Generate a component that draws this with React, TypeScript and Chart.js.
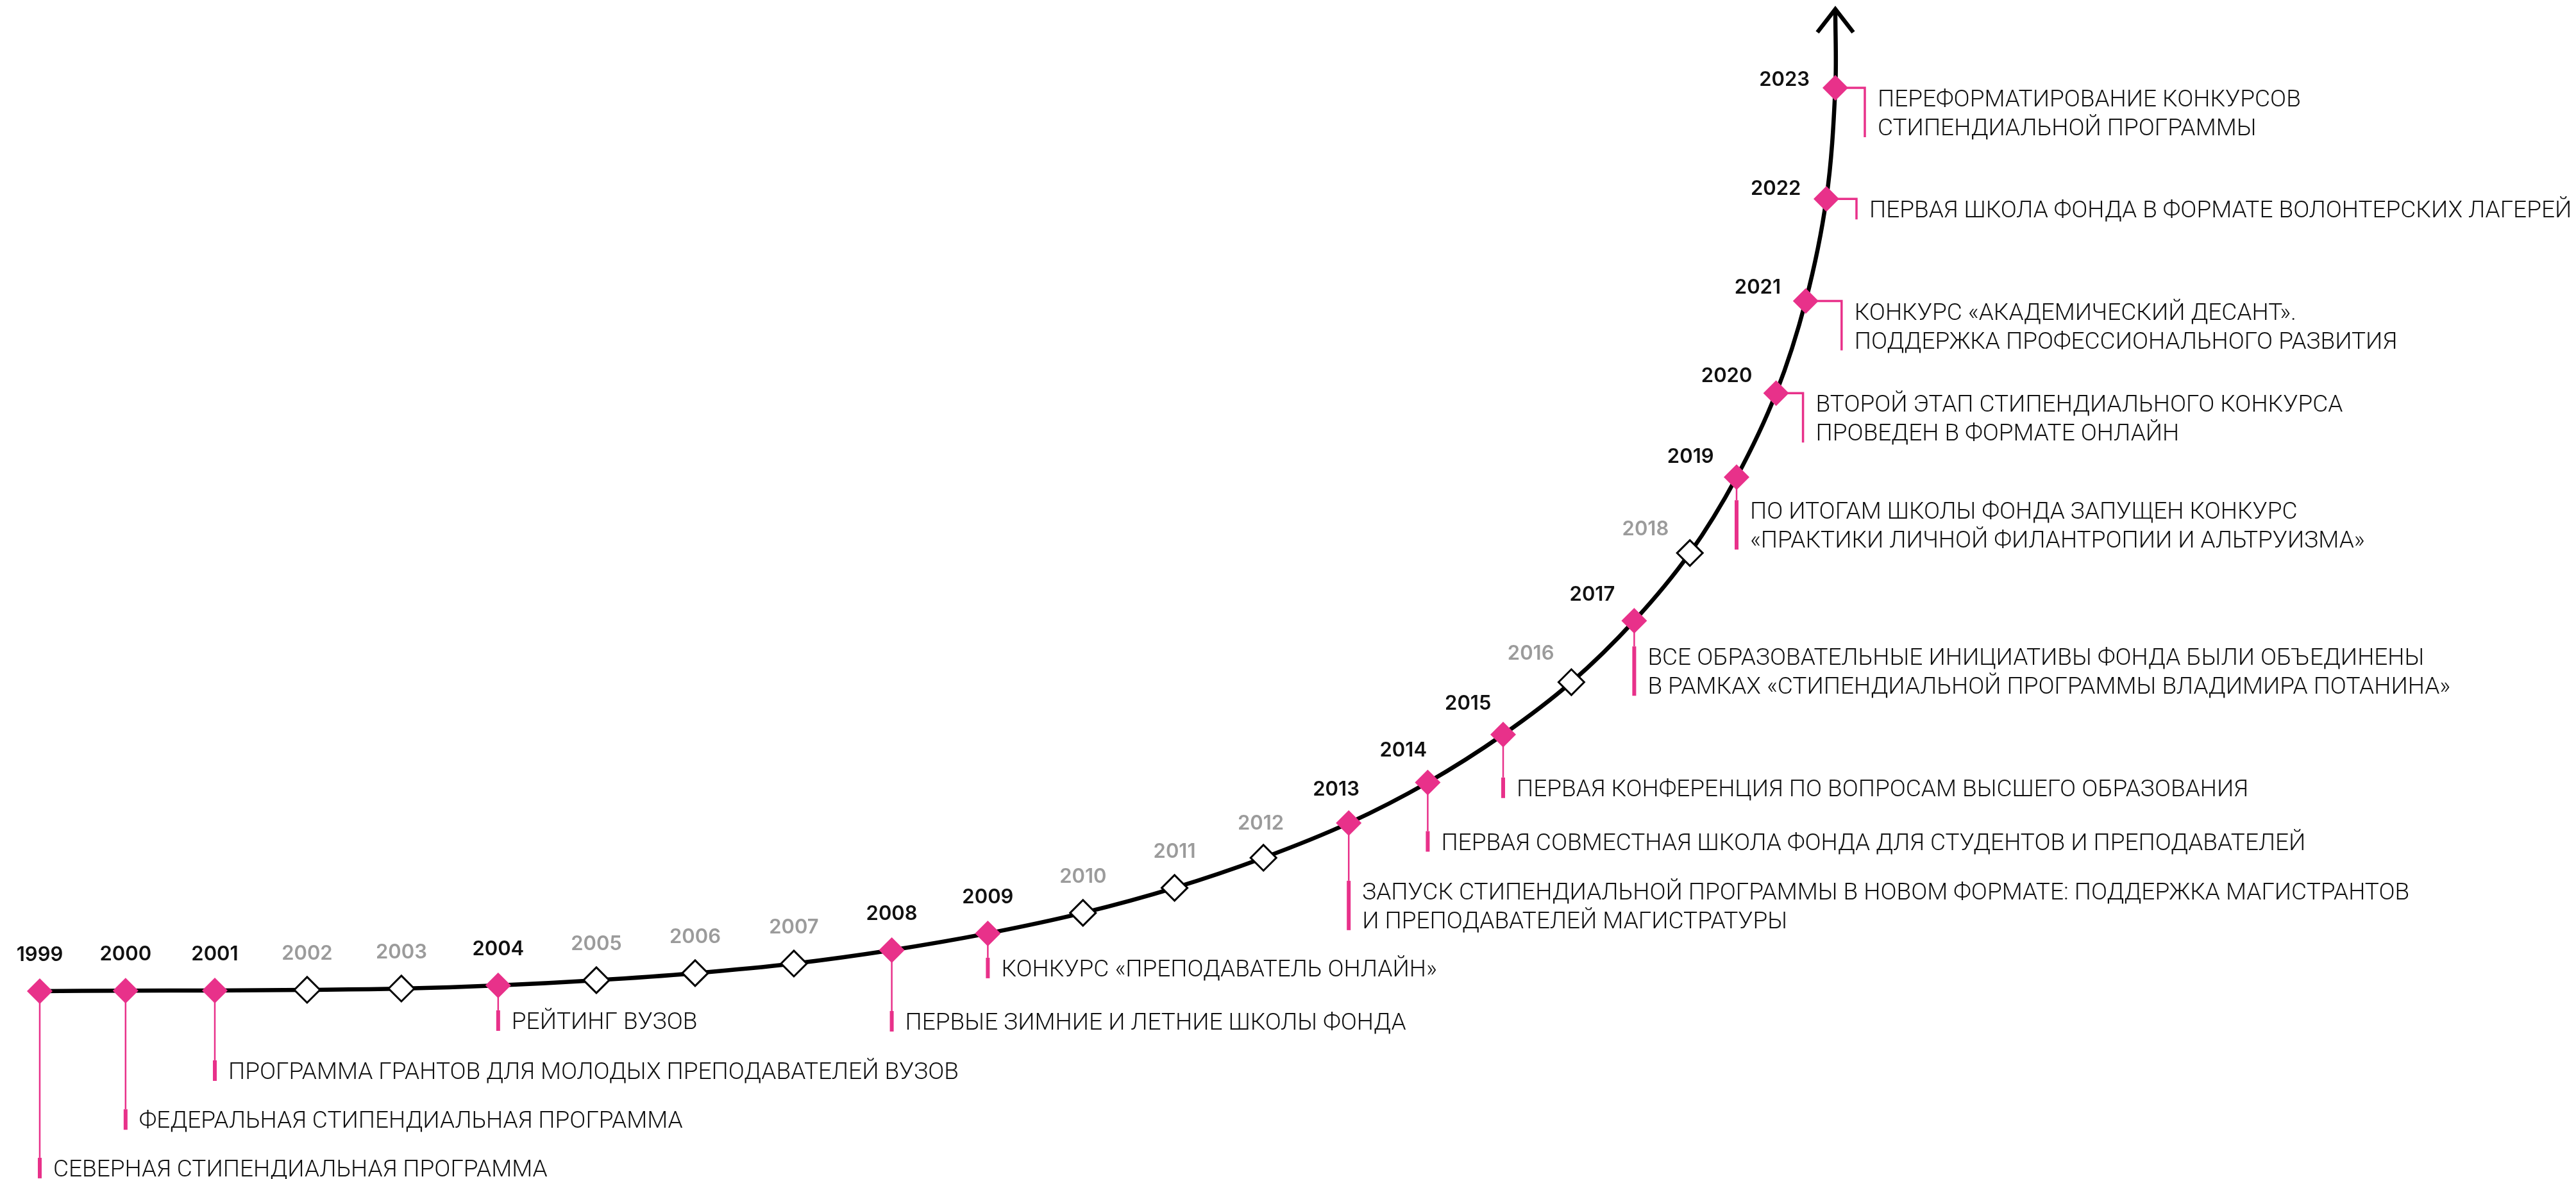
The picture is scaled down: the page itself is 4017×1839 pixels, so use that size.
import React, { useEffect, useRef } from "react";
import { Chart, registerables } from "chart.js";

Chart.register(...registerables);

// ---------- DATA ----------
const YEARS = [
  1999, 2000, 2001, 2002, 2003, 2004, 2005, 2006, 2007, 2008, 2009, 2010,
  2011, 2012, 2013, 2014, 2015, 2016, 2017, 2018, 2019, 2020, 2021, 2022, 2023,
];
// horizontal progress along the timeline (0..100)
const PROGRESS = [
  0, 4.78, 9.75, 14.89, 20.14, 25.53, 31.0, 36.5, 42.0, 47.45, 52.8, 58.1,
  63.2, 68.15, 72.9, 77.3, 81.5, 85.3, 88.8, 91.9, 94.5, 96.7, 98.35, 99.5, 100,
];
// growth index (0..100)
const GROWTH = [
  0, 0.05, 0.07, 0.14, 0.28, 0.64, 1.21, 1.99, 3.05, 4.54, 6.39, 8.66,
  11.43, 14.76, 18.6, 23.1, 28.4, 34.2, 41.0, 48.5, 56.9, 66.2, 76.4, 87.7, 100,
];
const ARROW_TIP_PROGRESS = 100;
const ARROW_TIP_GROWTH = 108.7;

const EVENT_YEARS = [
  1999, 2000, 2001, 2004, 2008, 2009, 2013, 2014, 2015, 2017, 2019, 2020, 2021,
  2022, 2023,
];
const EVENT_TEXTS = [
  ["СЕВЕРНАЯ СТИПЕНДИАЛЬНАЯ ПРОГРАММА"],
  ["ФЕДЕРАЛЬНАЯ СТИПЕНДИАЛЬНАЯ ПРОГРАММА"],
  ["ПРОГРАММА ГРАНТОВ ДЛЯ МОЛОДЫХ ПРЕПОДАВАТЕЛЕЙ ВУЗОВ"],
  ["РЕЙТИНГ ВУЗОВ"],
  ["ПЕРВЫЕ ЗИМНИЕ И ЛЕТНИЕ ШКОЛЫ ФОНДА"],
  ["КОНКУРС «ПРЕПОДАВАТЕЛЬ ОНЛАЙН»"],
  [
    "ЗАПУСК СТИПЕНДИАЛЬНОЙ ПРОГРАММЫ В НОВОМ ФОРМАТЕ: ПОДДЕРЖКА МАГИСТРАНТОВ",
    "И ПРЕПОДАВАТЕЛЕЙ МАГИСТРАТУРЫ",
  ],
  ["ПЕРВАЯ СОВМЕСТНАЯ ШКОЛА ФОНДА ДЛЯ СТУДЕНТОВ И ПРЕПОДАВАТЕЛЕЙ"],
  ["ПЕРВАЯ КОНФЕРЕНЦИЯ ПО ВОПРОСАМ ВЫСШЕГО ОБРАЗОВАНИЯ"],
  [
    "ВСЕ ОБРАЗОВАТЕЛЬНЫЕ ИНИЦИАТИВЫ ФОНДА БЫЛИ ОБЪЕДИНЕНЫ",
    "В РАМКАХ «СТИПЕНДИАЛЬНОЙ ПРОГРАММЫ ВЛАДИМИРА ПОТАНИНА»",
  ],
  [
    "ПО ИТОГАМ ШКОЛЫ ФОНДА ЗАПУЩЕН КОНКУРС",
    "«ПРАКТИКИ ЛИЧНОЙ ФИЛАНТРОПИИ И АЛЬТРУИЗМА»",
  ],
  ["ВТОРОЙ ЭТАП СТИПЕНДИАЛЬНОГО КОНКУРСА", "ПРОВЕДЕН В ФОРМАТЕ ОНЛАЙН"],
  ["КОНКУРС «АКАДЕМИЧЕСКИЙ ДЕСАНТ».", "ПОДДЕРЖКА ПРОФЕССИОНАЛЬНОГО РАЗВИТИЯ"],
  ["ПЕРВАЯ ШКОЛА ФОНДА В ФОРМАТЕ ВОЛОНТЕРСКИХ ЛАГЕРЕЙ"],
  ["ПЕРЕФОРМАТИРОВАНИЕ КОНКУРСОВ", "СТИПЕНДИАЛЬНОЙ ПРОГРАММЫ"],
];

// ---------- LAYOUT (callout placement, px) ----------
const CALLOUT_DROP: Record<number, number> = {
  1999: 276, 2000: 201, 2001: 125, 2004: 55, 2008: 111, 2009: 54,
  2013: 106, 2014: 92, 2015: 83, 2017: 56, 2019: 52,
};
const CALLOUT_SIDE: Record<number, number> = {
  2020: 42, 2021: 56, 2022: 47, 2023: 46,
};

const W = 4017;
const H = 1839;
const PINK = "#E8318A";
const EVENT_FONT_SIZE = 37;
const EVENT_FONT = `300 ${EVENT_FONT_SIZE}px Roboto`;
const YEAR_FONT_SIZE = 31;
const YEAR_FONT = `600 ${YEAR_FONT_SIZE}px Inter`;
const LINE_H = 45;
const R = 20;

const isEvent = (y: number) => EVENT_YEARS.indexOf(y) >= 0;

const timelinePlugin = {
  id: "timelineDecor",
  beforeDatasetsDraw(chart: any) {
    const ctx = chart.ctx;
    const pts = chart.getDatasetMeta(0).data;
    ctx.save();
    ctx.strokeStyle = PINK;
    ctx.fillStyle = PINK;
    EVENT_YEARS.forEach((yr, k) => {
      const i = YEARS.indexOf(yr);
      const p = pts[i];
      const lines = EVENT_TEXTS[k];
      let textX: number;
      let firstC: number;
      if (CALLOUT_SIDE[yr] !== undefined) {
        const dx = CALLOUT_SIDE[yr];
        firstC = p.y + 16;
        const lastC = firstC + (lines.length - 1) * LINE_H;
        ctx.lineWidth = 3.5;
        ctx.beginPath();
        ctx.moveTo(p.x + R - 4, p.y);
        ctx.lineTo(p.x + dx, p.y);
        ctx.lineTo(p.x + dx, lastC + 16);
        ctx.stroke();
        textX = p.x + dx + 20;
      } else {
        const drop = CALLOUT_DROP[yr];
        firstC = p.y + drop;
        const lastC = firstC + (lines.length - 1) * LINE_H;
        ctx.lineWidth = 2.5;
        ctx.beginPath();
        ctx.moveTo(p.x, p.y + R - 4);
        ctx.lineTo(p.x, firstC - 16);
        ctx.stroke();
        ctx.fillRect(p.x - 3, firstC - 16, 6, lastC - firstC + 32);
        textX = p.x + 21;
      }
      ctx.save();
      ctx.fillStyle = "#111111";
      ctx.font = EVENT_FONT;
      ctx.textAlign = "left";
      ctx.textBaseline = "alphabetic";
      const capH = EVENT_FONT_SIZE * 0.711;
      lines.forEach((ln, j) => {
        ctx.fillText(ln, textX, firstC + j * LINE_H + capH / 2);
      });
      ctx.restore();
    });
    ctx.restore();
  },
  afterDatasetsDraw(chart: any) {
    const ctx = chart.ctx;
    const pts = chart.getDatasetMeta(0).data;
    const lineMeta = chart.getDatasetMeta(1).data;
    const tip = lineMeta[lineMeta.length - 1];
    // arrow head
    ctx.save();
    ctx.strokeStyle = "#000";
    ctx.lineWidth = 6.5;
    ctx.lineJoin = "miter";
    ctx.beginPath();
    ctx.moveTo(tip.x - 28, tip.y + 36);
    ctx.lineTo(tip.x, tip.y);
    ctx.lineTo(tip.x + 28, tip.y + 36);
    ctx.stroke();
    ctx.restore();

    // year labels
    ctx.save();
    ctx.font = YEAR_FONT;
    ctx.textAlign = "center";
    ctx.textBaseline = "alphabetic";
    const digitH = YEAR_FONT_SIZE * 0.727;
    YEARS.forEach((yr, i) => {
      const p = pts[i];
      const prev = i > 0 ? pts[i - 1] : p;
      const next = i < pts.length - 1 ? pts[i + 1] : tip;
      let tx = next.x - prev.x;
      let ty = next.y - prev.y;
      const L = Math.hypot(tx, ty) || 1;
      tx /= L;
      ty /= L;
      const nx = Math.abs(ty);
      const ny = Math.abs(tx);
      let fx = 0;
      if (nx >= 0.33 && nx < 0.6) fx = ((nx - 0.33) / 0.27) * 0.8;
      else if (nx >= 0.6) fx = 0.8 + ((nx - 0.6) / 0.4) * 0.2;
      const fy = fx === 0 ? 1 : Math.min(1, 0.2 + 0.8 * ny);
      const label = String(yr);
      const w = ctx.measureText(label).width;
      const cx = p.x - fx * (40 + w / 2);
      const cy = p.y - fy * 58;
      ctx.fillStyle = isEvent(yr) ? "#111111" : "#9B9B9B";
      ctx.fillText(label, cx, cy + digitH / 2);
    });
    ctx.restore();
  },
};

export default function App() {
  const ref = useRef<HTMLCanvasElement | null>(null);
  useEffect(() => {
    if (!ref.current) return;
    const points = YEARS.map((_, i) => ({ x: PROGRESS[i], y: GROWTH[i] }));
    const linePoints = [
      ...points,
      { x: ARROW_TIP_PROGRESS, y: ARROW_TIP_GROWTH },
    ];
    const chart = new Chart(ref.current, {
      type: "line",
      data: {
        datasets: [
          {
            label: "years",
            data: points,
            showLine: false,
            pointStyle: "rectRot",
            pointRadius: R,
            pointHoverRadius: R,
            pointBackgroundColor: YEARS.map((y) => (isEvent(y) ? PINK : "#ffffff")),
            pointBorderColor: YEARS.map((y) => (isEvent(y) ? PINK : "#000000")),
            pointBorderWidth: YEARS.map((y) => (isEvent(y) ? 0 : 3)),
            pointHoverBorderWidth: YEARS.map((y) => (isEvent(y) ? 0 : 3)),
            clip: false,
          } as any,
          {
            label: "curve",
            data: linePoints,
            borderColor: "#000000",
            borderWidth: 6.5,
            tension: 0.35,
            pointRadius: 0,
            pointHoverRadius: 0,
            fill: false,
            clip: false,
          } as any,
        ],
      },
      options: {
        animation: false,
        responsive: false,
        maintainAspectRatio: false,
        devicePixelRatio: 1,
        events: [],
        layout: { padding: 0, autoPadding: false },
        plugins: {
          legend: { display: false },
          tooltip: { enabled: false },
        },
        scales: {
          x: { type: "linear", min: -2.214, max: 141.25, display: false },
          y: { type: "linear", min: -20.8, max: 109.72, display: false },
        },
      } as any,
      plugins: [timelinePlugin],
    });
    return () => chart.destroy();
  }, []);
  return (
    <div
      style={{
        position: "absolute",
        left: 0,
        top: 0,
        width: W,
        height: H,
        background: "#ffffff",
      }}
    >
      <canvas ref={ref} width={W} height={H} style={{ width: W, height: H }} />
    </div>
  );
}
